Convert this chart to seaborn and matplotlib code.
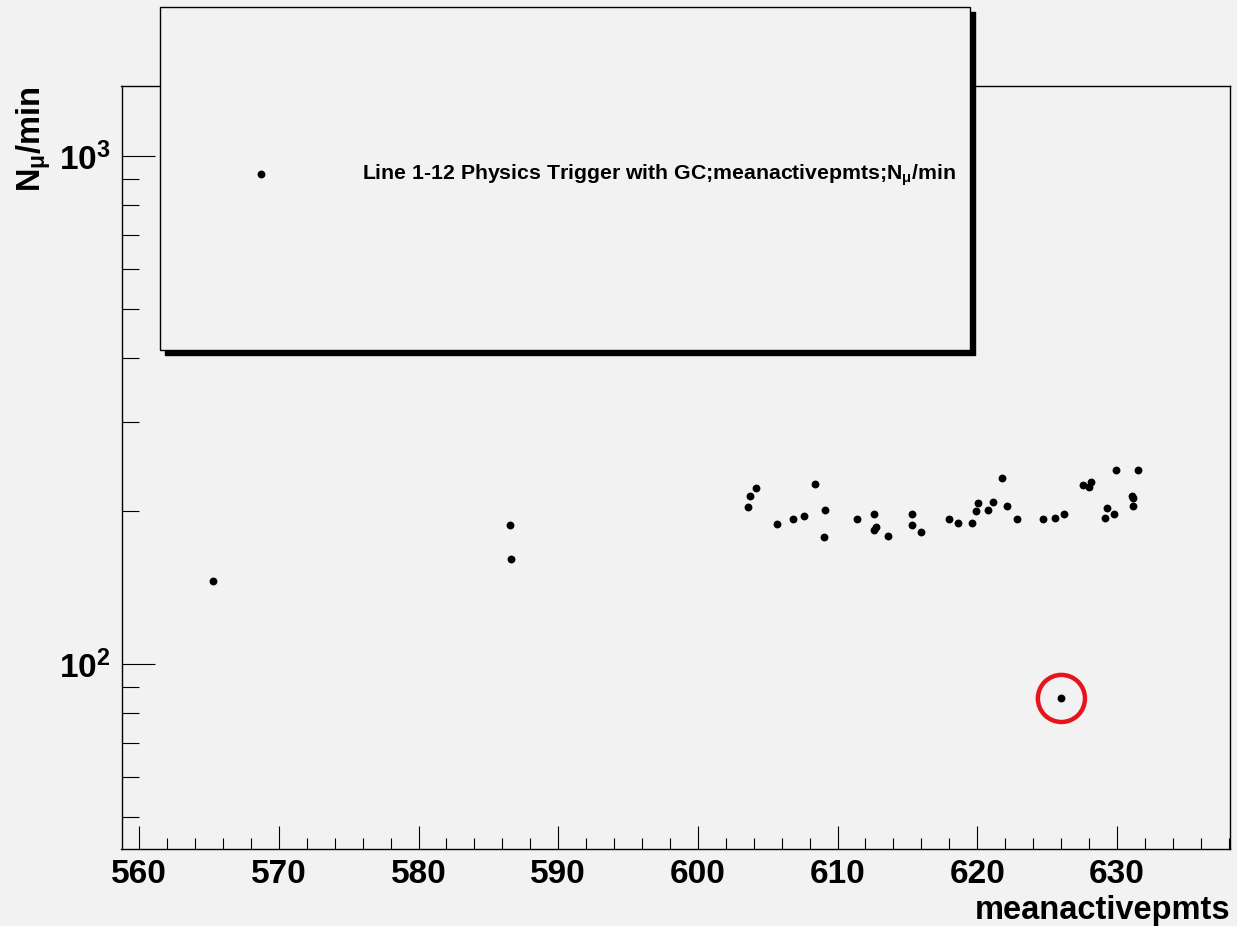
import matplotlib
matplotlib.use("Agg")
import matplotlib.pyplot as plt
from matplotlib.patches import Rectangle
from matplotlib.ticker import MultipleLocator, LogLocator, NullFormatter, FixedLocator, FixedFormatter
import seaborn as sns
import pandas as pd

# ---- data ----
mean_active_pmts = [
    565.30, 586.54, 586.61,
    603.62, 603.72, 604.17, 605.70, 606.79, 607.60, 608.42, 609.13, 609.03,
    611.37, 612.64, 612.73, 612.64, 613.64, 615.36, 615.36, 616.01,
    617.98, 618.63, 619.61, 619.89, 620.06, 620.77, 621.16, 621.78, 622.13,
    622.85, 624.69, 625.57, 626.19, 627.57, 628.00, 628.13, 629.18, 629.29,
    629.82, 629.92, 631.08, 631.15, 631.18, 631.54, 626.03,
]
n_mu_per_min = [
    145.6, 187.6, 160.6,
    203.5, 213.9, 222.2, 188.7, 192.5, 195.1, 226.3, 201.1, 177.4,
    192.5, 197.2, 185.7, 183.2, 178.7, 197.2, 187.6, 182.2,
    192.5, 189.0, 189.0, 199.6, 207.3, 201.1, 208.5, 231.9, 204.8,
    192.5, 192.5, 193.6, 197.4, 224.9, 223.2, 227.7, 193.4, 202.4,
    197.4, 240.7, 214.2, 211.7, 204.8, 240.7, 85.5,
]
highlight_index = len(mean_active_pmts) - 1   # red-circled outlier

legend_label = r"Line 1-12 Physics Trigger with GC;meanactivepmts;N$_{\mu}$/min"
x_label = "meanactivepmts"
y_label = r"N$_{\mu}$/min"
y_major_ticks = [100, 1000]
y_major_labels = [r"$10^{2}$", r"$10^{3}$"]

df = pd.DataFrame({"x": mean_active_pmts, "y": n_mu_per_min})

# ---- style ----
BG = "#f2f2f2"
sns.set_theme(style="ticks")
plt.rcParams["font.family"] = ["Liberation Sans", "DejaVu Sans"]
plt.rcParams["font.weight"] = "bold"
plt.rcParams["text.color"] = "black"
plt.rcParams["mathtext.fontset"] = "custom"
plt.rcParams["mathtext.rm"] = "Liberation Sans:bold"
plt.rcParams["mathtext.it"] = "Liberation Sans:bold"
plt.rcParams["mathtext.bf"] = "Liberation Sans:bold"
plt.rcParams["mathtext.sf"] = "Liberation Sans:bold"
plt.rcParams["mathtext.default"] = "rm"

fig = plt.figure(figsize=(12.37, 9.26), dpi=100, facecolor=BG)
W, H = 1237, 926
ax = fig.add_axes([121.5 / W, 1 - 849 / H, (1230 - 121.5) / W, (849 - 86) / H])
ax.set_facecolor(BG)

sns.scatterplot(data=df, x="x", y="y", ax=ax, color="black", marker="o",
                s=32, linewidth=0, edgecolor="black", zorder=3)
pts = ax.collections[0]

# red circle around the outlier
ax.scatter([mean_active_pmts[highlight_index]], [n_mu_per_min[highlight_index]],
           s=1150, facecolors="none", edgecolors="#e8141c", linewidths=3.2, zorder=4)

ax.set_yscale("log")
ax.set_xlim(558.73, 638.1)
ax.set_ylim(43.2, 1374)

for s in ax.spines.values():
    s.set_color("black")
    s.set_linewidth(1.0)

ax.xaxis.set_major_locator(MultipleLocator(10))
ax.xaxis.set_minor_locator(MultipleLocator(2))
ax.yaxis.set_major_locator(FixedLocator(y_major_ticks))
ax.yaxis.set_major_formatter(FixedFormatter(y_major_labels))
ax.yaxis.set_minor_locator(LogLocator(base=10, subs=[2, 3, 4, 5, 6, 7, 8, 9]))
ax.yaxis.set_minor_formatter(NullFormatter())

TS = 24
ax.tick_params(axis="x", which="major", direction="in", length=16.6, width=0.8,
               labelsize=TS, pad=7, color="black", labelcolor="black")
ax.tick_params(axis="x", which="minor", direction="in", length=8, width=0.8, color="black")
ax.tick_params(axis="y", which="major", direction="in", length=23.8, width=0.8,
               labelsize=TS, pad=8, color="black", labelcolor="black")
ax.tick_params(axis="y", which="minor", direction="in", length=12.2, width=0.8, color="black")
for lab in ax.get_xticklabels() + ax.get_yticklabels():
    lab.set_fontweight("bold")

ax.set_xlabel(x_label, fontsize=23.5, fontweight="bold", loc="right", color="black")
ax.xaxis.set_label_coords(1.0, -0.060)
ax.set_ylabel(y_label, fontsize=23.5, fontweight="bold", loc="top", color="black")
ax.yaxis.set_label_coords(-0.062, 1.0)

# legend box with shadow (figure coordinates)
bx0, by0, bx1, by1 = 160, 7, 970, 350
shadow = Rectangle(((bx0 + 5) / W, 1 - (by1 + 5) / H), (bx1 - bx0) / W, (by1 - by0) / H,
                   transform=fig.transFigure, facecolor="black", edgecolor="black", zorder=10)
box = Rectangle((bx0 / W, 1 - by1 / H), (bx1 - bx0) / W, (by1 - by0) / H,
                transform=fig.transFigure, facecolor=BG, edgecolor="black",
                linewidth=1.0, zorder=11)
fig.add_artist(shadow)
fig.add_artist(box)

LS = 15.3
F = LS * 100 / 72.0
leg = fig.legend([pts], [legend_label], loc="center left", frameon=False,
                 bbox_to_anchor=((261 - F) / W, 1 - 175 / H),
                 bbox_transform=fig.transFigure, borderpad=0, borderaxespad=0,
                 handlelength=2.0, handletextpad=(101 - F) / F,
                 prop={"size": LS, "weight": "bold"}, markerscale=1.0)
leg.set_zorder(12)
for t in leg.get_texts():
    t.set_color("black")

fig.savefig("out.png", dpi=100, facecolor=BG)
